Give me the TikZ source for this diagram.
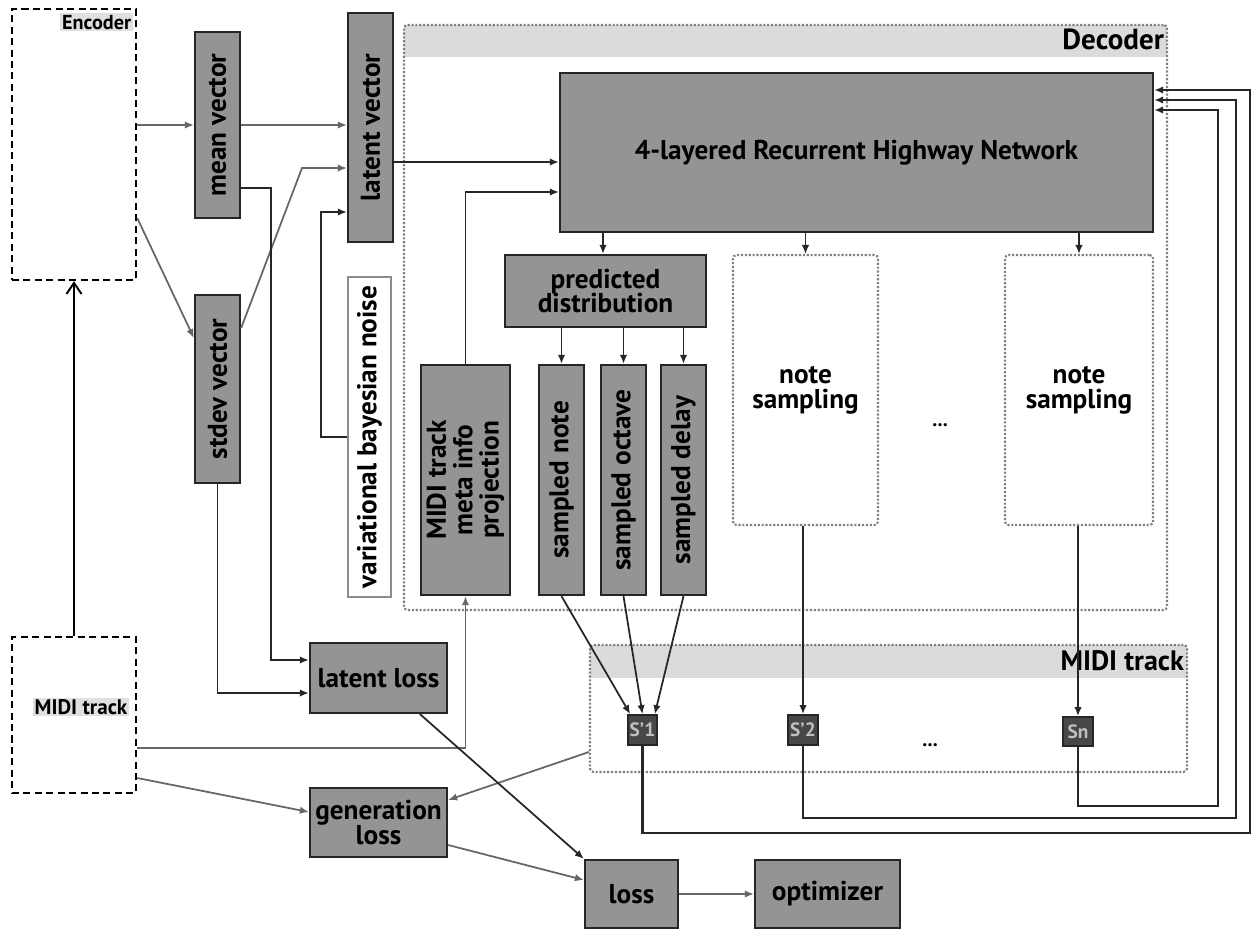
\documentclass[tikz,border=0pt]{standalone}
\usepackage{fontspec}
\setmainfont{PT Sans}
\usetikzlibrary{fit,arrows.meta,calc}
\newcommand\mainf{\fontsize{15.5}{16}\selectfont\bfseries}
\newcommand\smallf{\fontsize{11.5}{12}\selectfont\bfseries}
\newcommand\sboxf{\fontsize{11}{12}\selectfont\bfseries}
\begin{document}
\begin{tikzpicture}[x=0.02cm,y=-0.02cm,
  gbox/.style={draw=black!85, line width=1.3pt, fill=black!42, inner sep=0pt, font=\mainf, align=center},
  rlab/.style={rotate=90, font=\mainf, align=center, inner sep=0pt},
  hlab/.style={font=\mainf, align=center, inner sep=0pt},
  slab/.style={font=\sboxf, text=black!25, inner sep=0pt},
  conn/.style={draw=black!85, line width=1pt, -{Latex[length=1.8mm,width=1.5mm]}},
  gconn/.style={conn, draw=black!60},
  fb/.style={conn, draw=black!85, line width=1.4pt},
  dotbox/.style={draw=black!50, line width=1.2pt, densely dotted, rounded corners=2pt, inner sep=0pt, font=\mainf, align=center},
  dashbox/.style={draw=black, line width=1.4pt, dash pattern=on 4pt off 2.5pt, inner sep=0pt},
  sbox/.style={draw=black!85, fill=black!72, line width=1pt, inner sep=0pt},
  hdr/.style={fill=black!14, draw=none}
]
\useasboundingbox (0,0) rectangle (1252,930);

% containers
\fill[hdr] (404,25) rectangle (1167,57);
\node[dotbox, fit={(404,25) (1167,610)}] (dec) {};
\node[font=\fontsize{16.5}{17}\selectfont\bfseries, anchor=north east, inner sep=1pt] (declab) at ([shift={(-2,3)}]dec.north east) {Decoder};

\fill[hdr] (590,645) rectangle (1187,678);
\node[dotbox, fit={(590,645) (1187,772)}] (mt) {};
\node[font=\fontsize{16}{17}\selectfont\bfseries, anchor=north east, inner sep=1pt] (mtlab) at ([shift={(-2,4)}]mt.north east) {MIDI track};

% encoder side
\node[dashbox, fit={(12,9) (136,280)}] (enc) {};
\node[font=\smallf, anchor=north east, fill=black!12, inner sep=1pt] (enclab) at ([shift={(-4,5)}]enc.north east) {Encoder};
\node[dashbox, fit={(12,637) (136,793)}] (midin) {};
\node[font=\fontsize{12}{13}\selectfont\bfseries, fill=black!12, inner sep=1pt] (midinlab) at (81,707) {MIDI track};

\node[gbox, fit={(195,32) (240,218)}, label={[rlab]center:mean vector}] (mv) {};
\node[gbox, fit={(348,13) (393,242)}, label={[rlab]center:latent vector}] (lv) {};
\node[gbox, fit={(195,295) (240,483)}, label={[rlab]center:stdev vector}] (sv) {};
\node[gbox, fill=white, draw=black!45, line width=1.6pt, fit={(348,277) (391,597)}, label={[rlab]center:variational bayesian noise}] (noise) {};

% decoder
\node[gbox, fit={(560,73) (1153,232)}, label={[hlab]center:4-layered Recurrent Highway Network}] (rhn) {};
\node[gbox, fit={(505,255) (706,327)}, label={[hlab]center:predicted\\[-2pt]distribution}] (pd) {};
\node[gbox, fit={(421,365) (510,595)}, label={[rlab]center:MIDI track\\[-1pt]meta info\\[-1pt]projection}] (meta) {};
\node[gbox, fit={(539,365) (584,595)}, label={[rlab]center:sampled note}] (snote) {};
\node[gbox, fit={(601,365) (646,595)}, label={[rlab]center:sampled octave}] (soct) {};
\node[gbox, fit={(661,365) (706,595)}, label={[rlab]center:sampled delay}] (sdel) {};
\node[dotbox, fit={(733,255) (878,525)}, label={[hlab]center:note\\[-2pt]sampling}] (ns1) {};
\node[font=\smallf] (dots1) at (940,425) {...};
\node[dotbox, fit={(1005,255) (1153,525)}, label={[hlab]center:note\\[-2pt]sampling}] (ns2) {};

% midi track
\node[sbox, fit={(628,715) (657,745)}, label={[slab]center:S'1}] (s1) {};
\node[sbox, fit={(788,715) (818,745)}, label={[slab]center:S'2}] (s2) {};
\node[font=\smallf] (dots2) at (930,745) {...};
\node[sbox, fit={(1063,717) (1093,746)}, label={[slab]center:Sn}] (sn) {};

% losses
\node[gbox, fit={(310,643) (447,713)}, label={[hlab]center:latent loss}] (ll) {};
\node[gbox, fit={(310,788) (447,857)}, label={[hlab]center:generation\\[-2pt]loss}] (gl) {};
\node[gbox, fit={(585,860) (678,928)}, label={[hlab]center:loss}] (loss) {};
\node[gbox, fit={(755,860) (900,928)}, label={[hlab]center:optimizer}] (opt) {};

% connectors
\draw[draw=black, line width=1.1pt, -{Straight Barb[length=2.2mm,width=3mm]}] (midin.north -| 74,0) -- (enc.south -| 74,0);
\draw[gconn] (enc.east |- 0,125) -- (mv.west |- 0,125);
\draw[gconn] (mv.east |- 0,125) -- (lv.west |- 0,125);
\draw[gconn] (enc.east |- 0,218) -- (sv.west |- 0,338);
\draw[gconn] (sv.east |- 0,328) -- (302,168) -- (lv.west |- 0,168);
\draw[conn] (noise.west |- 0,437) -| (321,212) -- (lv.west |- 0,212);
\draw[conn] (mv.east |- 0,188) -| (271,660) -- (ll.west |- 0,660);
\draw[conn] (sv.south) -- (sv.south |- 0,693) -- (ll.west |- 0,693);
\draw[conn] (lv.east |- 0,162) -- (rhn.west |- 0,162);
\draw[conn] (meta.north) |- (rhn.west |- 0,192);
\draw[conn] (rhn.south -| 603,0) -- (pd.north -| 603,0);
\draw[conn] (rhn.south -| ns1.north) -- (ns1.north);
\draw[conn] (rhn.south -| ns2.north) -- (ns2.north);
\draw[conn] (pd.south -| snote.north) -- (snote.north);
\draw[conn] (pd.south -| soct.north) -- (soct.north);
\draw[conn] (pd.south -| sdel.north) -- (sdel.north);
\draw[conn] (snote.south) -- ([xshift=-7]s1.north);
\draw[conn] (soct.south) -- ([xshift=0]s1.north);
\draw[conn] (sdel.south) -- ([xshift=7]s1.north);
\draw[conn] (ns1.south -| s2.north) -- (s2.north);
\draw[conn] (ns2.south -| sn.north) -- (sn.north);
\draw[gconn] (midin.east |- 0,748) -| (meta.south);
\draw[gconn] (mt.west |- 0,752) -- (gl.east |- 0,800);
\draw[gconn] (midin.east |- 0,778) -- (gl.west |- 0,812);
\draw[conn] (ll.south -| 420,0) -- (loss.north west);
\draw[gconn] (gl.east |- 0,845) -- (loss.west |- 0,880);
\draw[gconn] (loss.east) -- (opt.west);
\draw[fb] (s1.south) -- (s1.south |- 0,833) -- (1250,833) -- (1250,90) -- (rhn.east |- 0,90);
\draw[fb] (s2.south) -- (s2.south |- 0,818) -- (1236,818) -- (1236,100) -- (rhn.east |- 0,100);
\draw[fb] (sn.south) -- (sn.south |- 0,806) -- (1218,806) -- (1218,110) -- (rhn.east |- 0,110);
\end{tikzpicture}
\end{document}
